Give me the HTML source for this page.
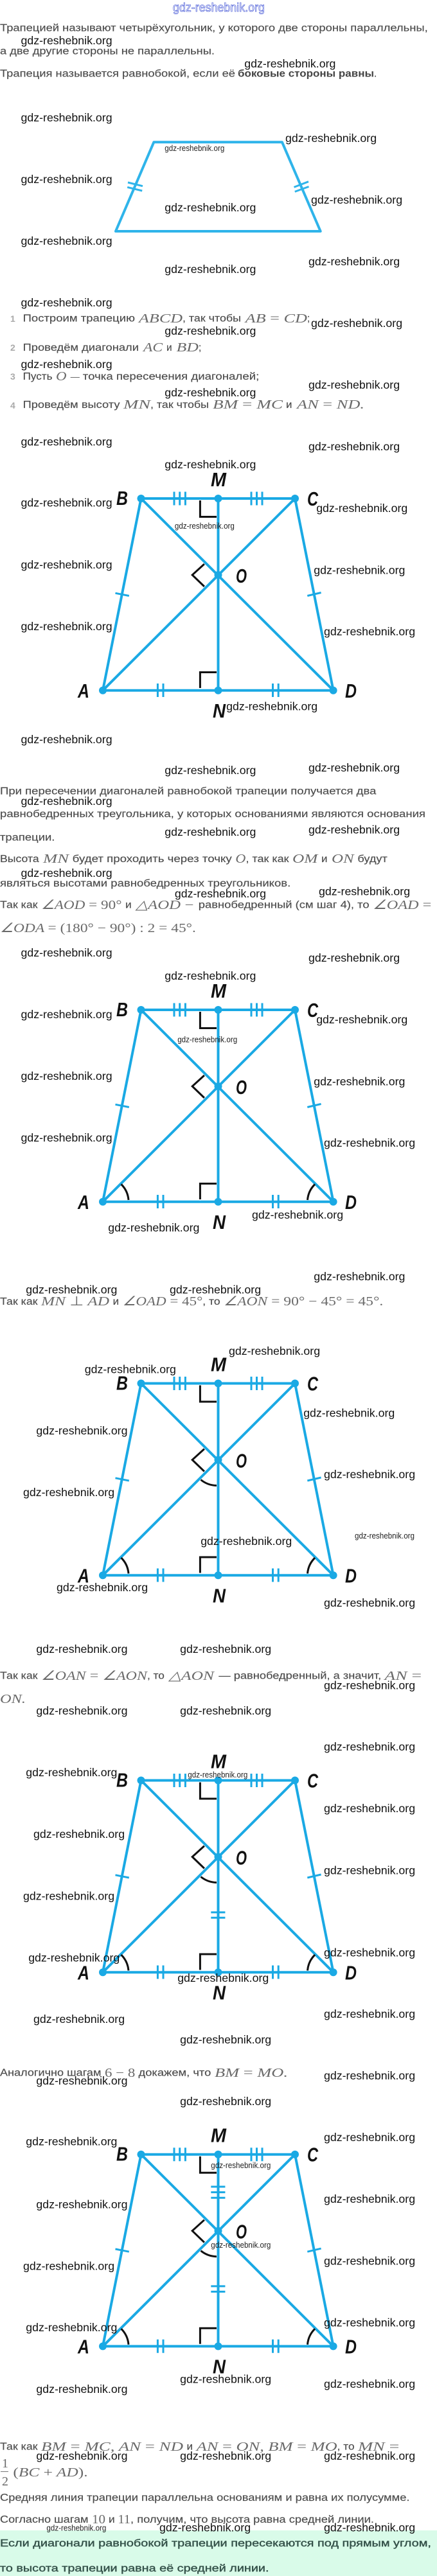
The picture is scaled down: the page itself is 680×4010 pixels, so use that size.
<!DOCTYPE html>
<html lang="ru"><head><meta charset="utf-8"><title>Трапеция</title>
<style>
html,body{margin:0;padding:0;background:#fff}
svg{display:block}
.b{font:15.5px "Liberation Sans","Noto Sans CJK SC",sans-serif;fill:#4c4c4c;stroke:#4c4c4c;stroke-width:.15}
.bb{font:bold 15.5px "Liberation Sans",sans-serif;fill:#444}
.g{font:15.5px "Liberation Sans",sans-serif;fill:#35524a;stroke:#35524a;stroke-width:.4}
.n{font:bold 14px "Liberation Sans",sans-serif;fill:#aaa}
.m{font:italic 20px "Liberation Serif",serif;fill:#6a6a6a}
.m tspan{font-style:normal}
.w{font:17.75px "Liberation Sans",sans-serif;fill:#111}
.s{font:13px "Liberation Sans",sans-serif;fill:#222}
.l{font:italic bold 31px "Liberation Sans",sans-serif;fill:#111}
.t{fill:#fff;stroke:#2a3fd0;stroke-width:.6;font:19px "Liberation Sans",sans-serif}
</style></head><body>
<svg xmlns="http://www.w3.org/2000/svg" width="680" height="4010" viewBox="0 0 680 4010">
<rect width="680" height="4010" fill="#fff"/>
<rect x="0" y="3939" width="680" height="71" fill="#d9fbe9"/>
<defs>
<g id="d">
<g stroke="#1aa9e4" stroke-width="4" fill="none">
<path d="M219.5 0H459L518.6 298.7H160Z"/>
<path d="M219.5 0L518.6 298.7M459 0L160 298.7M339.5 0V298.7" />
<g stroke-width="3">
<path d="M271 -10.5v21M279.7 -10.5v21M288.4 -10.5v21M391 -10.5v21M399.5 -10.5v21M408 -10.5v21"/>
<path d="M245.4 288v21M254 288v21M424.5 288v21M433.2 288v21"/>
<path d="M179.5 147.3L200.8 151.5M478.3 151.5L499.6 146.5"/>
</g>
</g>
<g fill="#1aa9e4"><circle cx="219.5" cy="0" r="6"/><circle cx="339.5" cy="0" r="6"/><circle cx="459" cy="0" r="6"/><circle cx="339.5" cy="119" r="6"/><circle cx="160" cy="298.7" r="6"/><circle cx="339.5" cy="298.7" r="6"/><circle cx="518.6" cy="298.7" r="6"/></g>
<path d="M311.4 3V28.5H337M317.9 102L299.2 119L317.9 137M311.4 295V270.5H337" stroke="#111" stroke-width="3" fill="none"/>
</g>
<path id="a" d="M188.6 271.5A39 39 0 0 1 200 296M490 271.5A39 39 0 0 0 478.5 296" stroke="#111" stroke-width="3" fill="none"/>
<path id="o" d="M312.5 150A40 40 0 0 0 337 159" stroke="#111" stroke-width="3" fill="none"/>
</defs>

<!-- first trapezoid -->
<path d="M239.4 221.2H438.9L498.7 360H180Z" fill="none" stroke="#2fb4ea" stroke-width="4" stroke-linejoin="round"/>
<path d="M199 284L222 289.7M198.2 291.4L221.2 297M457.5 291.4L480 282.7M458.8 298.4L480.5 290.5" stroke="#2fb4ea" stroke-width="3" fill="none"/>

<!-- diagrams -->
<g transform="translate(0,776)"><use href="#d"/>
<text class="l" x="328" y="-19" textLength="24" lengthAdjust="spacingAndGlyphs">M</text><text class="l" x="181" y="10" textLength="18" lengthAdjust="spacingAndGlyphs">B</text><text class="l" x="478" y="11" textLength="17" lengthAdjust="spacingAndGlyphs">C</text><text class="l" x="367" y="131" textLength="17" lengthAdjust="spacingAndGlyphs">O</text><text class="l" x="121" y="310" textLength="18" lengthAdjust="spacingAndGlyphs">A</text><text class="l" x="537" y="310" textLength="18" lengthAdjust="spacingAndGlyphs">D</text><text class="l" x="331" y="341" textLength="20" lengthAdjust="spacingAndGlyphs">N</text></g>
<g transform="translate(0,1572)"><use href="#d"/><use href="#a"/>
<text class="l" x="328" y="-19" textLength="24" lengthAdjust="spacingAndGlyphs">M</text><text class="l" x="181" y="10" textLength="18" lengthAdjust="spacingAndGlyphs">B</text><text class="l" x="478" y="11" textLength="17" lengthAdjust="spacingAndGlyphs">C</text><text class="l" x="367" y="131" textLength="17" lengthAdjust="spacingAndGlyphs">O</text><text class="l" x="121" y="310" textLength="18" lengthAdjust="spacingAndGlyphs">A</text><text class="l" x="537" y="310" textLength="18" lengthAdjust="spacingAndGlyphs">D</text><text class="l" x="331" y="341" textLength="20" lengthAdjust="spacingAndGlyphs">N</text></g>
<g transform="translate(0,2153.5)"><use href="#d"/><use href="#a"/><use href="#o"/>
<text class="l" x="328" y="-19" textLength="24" lengthAdjust="spacingAndGlyphs">M</text><text class="l" x="181" y="10" textLength="18" lengthAdjust="spacingAndGlyphs">B</text><text class="l" x="478" y="11" textLength="17" lengthAdjust="spacingAndGlyphs">C</text><text class="l" x="367" y="131" textLength="17" lengthAdjust="spacingAndGlyphs">O</text><text class="l" x="121" y="310" textLength="18" lengthAdjust="spacingAndGlyphs">A</text><text class="l" x="537" y="310" textLength="18" lengthAdjust="spacingAndGlyphs">D</text><text class="l" x="331" y="341" textLength="20" lengthAdjust="spacingAndGlyphs">N</text></g>
<g transform="translate(0,2771.5)"><use href="#d"/><use href="#a"/><use href="#o"/>
<path d="M328.3 205.4H350.4M328.3 213.7H350.4" stroke="#1aa9e4" stroke-width="3"/>
<text class="l" x="328" y="-19" textLength="24" lengthAdjust="spacingAndGlyphs">M</text><text class="l" x="181" y="10" textLength="18" lengthAdjust="spacingAndGlyphs">B</text><text class="l" x="478" y="11" textLength="17" lengthAdjust="spacingAndGlyphs">C</text><text class="l" x="367" y="131" textLength="17" lengthAdjust="spacingAndGlyphs">O</text><text class="l" x="121" y="310" textLength="18" lengthAdjust="spacingAndGlyphs">A</text><text class="l" x="537" y="310" textLength="18" lengthAdjust="spacingAndGlyphs">D</text><text class="l" x="331" y="341" textLength="20" lengthAdjust="spacingAndGlyphs">N</text></g>
<g transform="translate(0,3353.7)"><use href="#d"/><use href="#a"/><use href="#o"/>
<path d="M328.3 205.2H350.4M328.3 213.7H350.4M328.3 50.3H350.4M328.3 58.9H350.4M328.3 67.5H350.4" stroke="#1aa9e4" stroke-width="3"/>
<text class="l" x="328" y="-19" textLength="24" lengthAdjust="spacingAndGlyphs">M</text><text class="l" x="181" y="10" textLength="18" lengthAdjust="spacingAndGlyphs">B</text><text class="l" x="478" y="11" textLength="17" lengthAdjust="spacingAndGlyphs">C</text><text class="l" x="367" y="131" textLength="17" lengthAdjust="spacingAndGlyphs">O</text><text class="l" x="121" y="310" textLength="18" lengthAdjust="spacingAndGlyphs">A</text><text class="l" x="537" y="310" textLength="18" lengthAdjust="spacingAndGlyphs">D</text><text class="l" x="331" y="341" textLength="20" lengthAdjust="spacingAndGlyphs">N</text></g>

<!-- body text -->
<text class="b" x="0" y="48.5" textLength="665.7" lengthAdjust="spacingAndGlyphs">Трапецией называют четырёхугольник, у которого две стороны параллельны,</text>
<text class="b" x="0" y="84.5" textLength="334" lengthAdjust="spacingAndGlyphs">а две другие стороны не параллельны.</text>
<text class="b" x="0" y="119.5" textLength="366" lengthAdjust="spacingAndGlyphs">Трапеция называется равнобокой, если её</text>
<text class="bb" x="370" y="119.5" textLength="212" lengthAdjust="spacingAndGlyphs">боковые стороны равны</text>
<text class="b" x="582" y="119.5">.</text>

<text class="n" x="16" y="501">1</text>
<text class="b" x="35.6" y="500.7" textLength="174.4" lengthAdjust="spacingAndGlyphs">Построим трапецию</text>
<text class="m" x="216" y="502" textLength="68" lengthAdjust="spacingAndGlyphs">ABCD</text>
<text class="b" x="284" y="500.7" textLength="91" lengthAdjust="spacingAndGlyphs">, так чтобы</text>
<text class="m" x="381.6" y="502" textLength="96.4" lengthAdjust="spacingAndGlyphs">AB <tspan>=</tspan> CD</text>
<text class="b" x="478" y="500.7">;</text>
<text class="n" x="16" y="546">2</text>
<text class="b" x="35.6" y="545.8" textLength="180.4" lengthAdjust="spacingAndGlyphs">Проведём диагонали</text>
<text class="m" x="223" y="547" textLength="30" lengthAdjust="spacingAndGlyphs">AC</text>
<text class="b" x="259" y="545.8" textLength="8.6" lengthAdjust="spacingAndGlyphs">и</text>
<text class="m" x="274.5" y="547" textLength="34.5" lengthAdjust="spacingAndGlyphs">BD</text>
<text class="b" x="309" y="545.8">;</text>
<text class="n" x="16" y="591">3</text>
<text class="b" x="35.6" y="591" textLength="45.9" lengthAdjust="spacingAndGlyphs">Пусть</text>
<text class="m" x="87" y="592" textLength="16.6" lengthAdjust="spacingAndGlyphs">O</text>
<text class="m" x="109.7" y="592" textLength="14" lengthAdjust="spacingAndGlyphs"><tspan>—</tspan></text>
<text class="b" x="128.8" y="591" textLength="274.5" lengthAdjust="spacingAndGlyphs">точка пересечения диагоналей;</text>
<text class="n" x="16" y="636">4</text>
<text class="b" x="35.6" y="635" textLength="150.9" lengthAdjust="spacingAndGlyphs">Проведём высоту</text>
<text class="m" x="192" y="636" textLength="42" lengthAdjust="spacingAndGlyphs">MN</text>
<text class="b" x="234" y="635" textLength="91" lengthAdjust="spacingAndGlyphs">, так чтобы</text>
<text class="m" x="331" y="636" textLength="109" lengthAdjust="spacingAndGlyphs">BM <tspan>=</tspan> MC</text>
<text class="b" x="445" y="635" textLength="9.5" lengthAdjust="spacingAndGlyphs">и</text>
<text class="m" x="462" y="636" textLength="105" lengthAdjust="spacingAndGlyphs">AN <tspan>=</tspan> ND.</text>

<text class="b" x="0" y="1236.3" textLength="585.4" lengthAdjust="spacingAndGlyphs">При пересечении диагоналей равнобокой трапеции получается два</text>
<text class="b" x="0" y="1272.1" textLength="662" lengthAdjust="spacingAndGlyphs">равнобедренных треугольника, у которых основаниями являются основания</text>
<text class="b" x="0" y="1308.3" textLength="85.4" lengthAdjust="spacingAndGlyphs">трапеции.</text>
<text class="b" x="0" y="1342" textLength="60.7" lengthAdjust="spacingAndGlyphs">Высота</text>
<text class="m" x="67" y="1343" textLength="40" lengthAdjust="spacingAndGlyphs">MN</text>
<text class="b" x="112.7" y="1342" textLength="248" lengthAdjust="spacingAndGlyphs">будет проходить через точку</text>
<text class="m" x="366.4" y="1343" textLength="16" lengthAdjust="spacingAndGlyphs">O</text>
<text class="b" x="382.5" y="1342" textLength="67" lengthAdjust="spacingAndGlyphs">, так как</text>
<text class="m" x="455" y="1343" textLength="39.4" lengthAdjust="spacingAndGlyphs">OM</text>
<text class="b" x="500" y="1342" textLength="9.5" lengthAdjust="spacingAndGlyphs">и</text>
<text class="m" x="516" y="1343" textLength="34.7" lengthAdjust="spacingAndGlyphs">ON</text>
<text class="b" x="556.4" y="1342" textLength="46.4" lengthAdjust="spacingAndGlyphs">будут</text>
<text class="b" x="0" y="1380" textLength="452.3" lengthAdjust="spacingAndGlyphs">являться высотами равнобедренных треугольников.</text>
<text class="b" x="0" y="1413.6" textLength="58.5" lengthAdjust="spacingAndGlyphs">Так как</text>
<text class="m" x="64" y="1415" textLength="125.5" lengthAdjust="spacingAndGlyphs">∠AOD <tspan>= 90°</tspan></text>
<text class="b" x="195" y="1413.6" textLength="9.7" lengthAdjust="spacingAndGlyphs">и</text>
<text class="m" x="211" y="1415" textLength="70" lengthAdjust="spacingAndGlyphs">△AOD</text>
<text class="m" x="287.5" y="1415" textLength="14" lengthAdjust="spacingAndGlyphs"><tspan>−</tspan></text>
<text class="b" x="308.8" y="1413.6" textLength="265.8" lengthAdjust="spacingAndGlyphs">равнобедренный (см шаг 4), то</text>
<text class="m" x="580" y="1415" textLength="91.3" lengthAdjust="spacingAndGlyphs">∠OAD <tspan>=</tspan></text>
<text class="m" x="0" y="1451" textLength="304.9" lengthAdjust="spacingAndGlyphs">∠ODA <tspan>= (180° − 90°) : 2 = 45°.</tspan></text>

<text class="b" x="0" y="2031" textLength="58.5" lengthAdjust="spacingAndGlyphs">Так как</text>
<text class="m" x="64" y="2032" textLength="106" lengthAdjust="spacingAndGlyphs">MN <tspan>⊥</tspan> AD</text>
<text class="b" x="175.6" y="2031" textLength="9.5" lengthAdjust="spacingAndGlyphs">и</text>
<text class="m" x="190.8" y="2032" textLength="124.5" lengthAdjust="spacingAndGlyphs">∠OAD <tspan>= 45°</tspan></text>
<text class="b" x="315.3" y="2031" textLength="27.3" lengthAdjust="spacingAndGlyphs">, то</text>
<text class="m" x="348" y="2032" textLength="248.3" lengthAdjust="spacingAndGlyphs">∠AON <tspan>= 90° − 45° = 45°.</tspan></text>

<text class="b" x="0" y="2613.4" textLength="58.5" lengthAdjust="spacingAndGlyphs">Так как</text>
<text class="m" x="64" y="2615" textLength="165" lengthAdjust="spacingAndGlyphs">∠OAN <tspan>=</tspan> ∠AON</text>
<text class="b" x="229" y="2613.4" textLength="26.9" lengthAdjust="spacingAndGlyphs">, то</text>
<text class="m" x="262.4" y="2615" textLength="70.6" lengthAdjust="spacingAndGlyphs">△AON</text>
<text class="b" x="340.4" y="2613.4" textLength="252.8" lengthAdjust="spacingAndGlyphs">— равнобедренный, а значит,</text>
<text class="m" x="598.4" y="2615" textLength="57.6" lengthAdjust="spacingAndGlyphs">AN <tspan>=</tspan></text>
<text class="m" x="0" y="2651" textLength="40" lengthAdjust="spacingAndGlyphs">ON.</text>

<text class="b" x="0" y="3231.7" textLength="157.4" lengthAdjust="spacingAndGlyphs">Аналогично шагам</text>
<text class="m" x="163" y="3233" textLength="47.3" lengthAdjust="spacingAndGlyphs"><tspan>6 − 8</tspan></text>
<text class="b" x="215.5" y="3231.7" textLength="112.8" lengthAdjust="spacingAndGlyphs">докажем, что</text>
<text class="m" x="334" y="3233" textLength="114" lengthAdjust="spacingAndGlyphs">BM <tspan>=</tspan> MO.</text>

<text class="b" x="0" y="3813.4" textLength="58.5" lengthAdjust="spacingAndGlyphs">Так как</text>
<text class="m" x="64" y="3815" textLength="221" lengthAdjust="spacingAndGlyphs">BM <tspan>=</tspan> MC, AN <tspan>=</tspan> ND</text>
<text class="b" x="290.5" y="3813.4" textLength="9.5" lengthAdjust="spacingAndGlyphs">и</text>
<text class="m" x="305.7" y="3815" textLength="219" lengthAdjust="spacingAndGlyphs">AN <tspan>=</tspan> ON, BM <tspan>=</tspan> MO</text>
<text class="b" x="524.7" y="3813.4" textLength="26.9" lengthAdjust="spacingAndGlyphs">, то</text>
<text class="m" x="557" y="3815" textLength="64.4" lengthAdjust="spacingAndGlyphs">MN <tspan>=</tspan></text>
<text class="m" x="3" y="3841"><tspan>1</tspan></text>
<rect x="1" y="3847" width="12" height="1" fill="#777"/>
<text class="m" x="3" y="3869"><tspan>2</tspan></text>
<text class="m" x="20.4" y="3855" textLength="116.2" lengthAdjust="spacingAndGlyphs"><tspan>(</tspan>BC <tspan>+</tspan> AD<tspan>).</tspan></text>
<text class="b" x="0" y="3893" textLength="637.5" lengthAdjust="spacingAndGlyphs">Средняя линия трапеции параллельна основаниям и равна их полусумме.</text>
<text class="b" x="0" y="3927" textLength="137.5" lengthAdjust="spacingAndGlyphs">Согласно шагам</text>
<text class="m" x="143" y="3928" textLength="21" lengthAdjust="spacingAndGlyphs"><tspan>10</tspan></text>
<text class="b" x="169" y="3927" textLength="9.7" lengthAdjust="spacingAndGlyphs">и</text>
<text class="m" x="183.4" y="3928" textLength="19.6" lengthAdjust="spacingAndGlyphs"><tspan>11</tspan></text>
<text class="b" x="203" y="3927" textLength="379" lengthAdjust="spacingAndGlyphs">, получим, что высота равна средней линии.</text>
<text class="g" x="0" y="3964.2" textLength="670.9" lengthAdjust="spacingAndGlyphs">Если диагонали равнобокой трапеции пересекаются под прямым углом,</text>
<text class="g" x="0" y="4003" textLength="418.5" lengthAdjust="spacingAndGlyphs">то высота трапеции равна её средней линии.</text>

<!-- watermarks -->
<text class="t" x="269" y="18" textLength="143" lengthAdjust="spacingAndGlyphs">gdz-reshebnik.org</text>
<text class="w" x="32.5" y="69">gdz-reshebnik.org</text>
<text class="w" x="380.3" y="105">gdz-reshebnik.org</text>
<text class="w" x="32.5" y="189">gdz-reshebnik.org</text>
<text class="w" x="444" y="221">gdz-reshebnik.org</text>
<text class="s" x="256.3" y="235" textLength="93" lengthAdjust="spacingAndGlyphs">gdz-reshebnik.org</text>
<text class="w" x="32.5" y="285">gdz-reshebnik.org</text>
<text class="w" x="484" y="317">gdz-reshebnik.org</text>
<text class="w" x="256.3" y="329">gdz-reshebnik.org</text>
<text class="w" x="32.5" y="381">gdz-reshebnik.org</text>
<text class="w" x="480" y="413">gdz-reshebnik.org</text>
<text class="w" x="256.3" y="425">gdz-reshebnik.org</text>
<text class="w" x="32.5" y="477">gdz-reshebnik.org</text>
<text class="w" x="484" y="509">gdz-reshebnik.org</text>
<text class="w" x="256.3" y="521">gdz-reshebnik.org</text>
<text class="w" x="32.5" y="573">gdz-reshebnik.org</text>
<text class="w" x="480" y="605">gdz-reshebnik.org</text>
<text class="w" x="256.3" y="617">gdz-reshebnik.org</text>

<text class="w" x="32.5" y="693.4">gdz-reshebnik.org</text>
<text class="w" x="480" y="701">gdz-reshebnik.org</text>
<text class="w" x="256.3" y="729.2">gdz-reshebnik.org</text>
<text class="w" x="32.5" y="788.5">gdz-reshebnik.org</text>
<text class="w" x="492.2" y="797">gdz-reshebnik.org</text>
<text class="s" x="271.9" y="823" textLength="93" lengthAdjust="spacingAndGlyphs">gdz-reshebnik.org</text>
<text class="w" x="32.5" y="885">gdz-reshebnik.org</text>
<text class="w" x="488.3" y="893.3">gdz-reshebnik.org</text>
<text class="w" x="32.5" y="980.9">gdz-reshebnik.org</text>
<text class="w" x="504" y="988.9">gdz-reshebnik.org</text>
<text class="w" x="352.1" y="1105.5">gdz-reshebnik.org</text>
<text class="w" x="32.5" y="1157.2">gdz-reshebnik.org</text>
<text class="w" x="256.3" y="1205.2">gdz-reshebnik.org</text>
<text class="w" x="480" y="1201">gdz-reshebnik.org</text>
<text class="w" x="32.5" y="1253.2">gdz-reshebnik.org</text>
<text class="w" x="256.3" y="1301.2">gdz-reshebnik.org</text>
<text class="w" x="480" y="1297.4">gdz-reshebnik.org</text>

<text class="w" x="32.5" y="1365.2">gdz-reshebnik.org</text>
<text class="w" x="271.9" y="1397.2">gdz-reshebnik.org</text>
<text class="w" x="496" y="1393.4">gdz-reshebnik.org</text>
<text class="w" x="32.5" y="1489">gdz-reshebnik.org</text>
<text class="w" x="480" y="1497">gdz-reshebnik.org</text>
<text class="w" x="256.3" y="1525">gdz-reshebnik.org</text>
<text class="w" x="32.5" y="1585">gdz-reshebnik.org</text>
<text class="w" x="492.2" y="1593">gdz-reshebnik.org</text>
<text class="s" x="276.2" y="1622.7" textLength="93" lengthAdjust="spacingAndGlyphs">gdz-reshebnik.org</text>
<text class="w" x="32.5" y="1680.9">gdz-reshebnik.org</text>
<text class="w" x="488.3" y="1689.3">gdz-reshebnik.org</text>
<text class="w" x="32.5" y="1777.2">gdz-reshebnik.org</text>
<text class="w" x="504" y="1784.8">gdz-reshebnik.org</text>
<text class="w" x="392" y="1897.2">gdz-reshebnik.org</text>
<text class="w" x="168.3" y="1917">gdz-reshebnik.org</text>
<text class="w" x="488.3" y="1993.2">gdz-reshebnik.org</text>

<text class="w" x="40.3" y="2013.7">gdz-reshebnik.org</text>
<text class="w" x="264" y="2013.7">gdz-reshebnik.org</text>
<text class="w" x="356" y="2109">gdz-reshebnik.org</text>
<text class="w" x="131.8" y="2137.3">gdz-reshebnik.org</text>
<text class="w" x="472.2" y="2205.3">gdz-reshebnik.org</text>
<text class="w" x="56.4" y="2233">gdz-reshebnik.org</text>
<text class="w" x="504" y="2301.2">gdz-reshebnik.org</text>
<text class="w" x="36" y="2329">gdz-reshebnik.org</text>
<text class="s" x="552" y="2395" textLength="93" lengthAdjust="spacingAndGlyphs">gdz-reshebnik.org</text>
<text class="w" x="312.2" y="2404.8">gdz-reshebnik.org</text>
<text class="w" x="88" y="2476.8">gdz-reshebnik.org</text>
<text class="w" x="504" y="2501">gdz-reshebnik.org</text>
<text class="w" x="56.4" y="2573">gdz-reshebnik.org</text>
<text class="w" x="280.1" y="2573">gdz-reshebnik.org</text>
<text class="w" x="504" y="2629.5">gdz-reshebnik.org</text>
<text class="w" x="56.4" y="2669">gdz-reshebnik.org</text>
<text class="w" x="280.1" y="2669">gdz-reshebnik.org</text>

<text class="w" x="504" y="2725">gdz-reshebnik.org</text>
<text class="w" x="40.3" y="2765">gdz-reshebnik.org</text>
<text class="s" x="292.3" y="2767" textLength="93" lengthAdjust="spacingAndGlyphs">gdz-reshebnik.org</text>
<text class="w" x="504" y="2821">gdz-reshebnik.org</text>
<text class="w" x="52" y="2861">gdz-reshebnik.org</text>
<text class="w" x="504" y="2917.3">gdz-reshebnik.org</text>
<text class="w" x="36" y="2957.3">gdz-reshebnik.org</text>
<text class="w" x="504" y="3045.3">gdz-reshebnik.org</text>
<text class="w" x="44.2" y="3053.3">gdz-reshebnik.org</text>
<text class="w" x="276.2" y="3084.8">gdz-reshebnik.org</text>
<text class="w" x="504" y="3141.2">gdz-reshebnik.org</text>
<text class="w" x="52" y="3149.2">gdz-reshebnik.org</text>
<text class="w" x="280.1" y="3181.2">gdz-reshebnik.org</text>
<text class="w" x="504" y="3237.2">gdz-reshebnik.org</text>
<text class="w" x="56.4" y="3245.2">gdz-reshebnik.org</text>
<text class="w" x="280.1" y="3277.2">gdz-reshebnik.org</text>
<text class="w" x="504" y="3333.2">gdz-reshebnik.org</text>
<text class="w" x="40.3" y="3339.5">gdz-reshebnik.org</text>

<text class="s" x="328.3" y="3375" textLength="93" lengthAdjust="spacingAndGlyphs">gdz-reshebnik.org</text>
<text class="w" x="504" y="3429.2">gdz-reshebnik.org</text>
<text class="w" x="56.4" y="3437.3">gdz-reshebnik.org</text>
<text class="s" x="328.3" y="3499" textLength="93" lengthAdjust="spacingAndGlyphs">gdz-reshebnik.org</text>
<text class="w" x="504" y="3525.3">gdz-reshebnik.org</text>
<text class="w" x="36" y="3533.5">gdz-reshebnik.org</text>
<text class="w" x="504" y="3621.5">gdz-reshebnik.org</text>
<text class="w" x="40.3" y="3629.2">gdz-reshebnik.org</text>
<text class="w" x="280.1" y="3709.5">gdz-reshebnik.org</text>
<text class="w" x="504" y="3717.2">gdz-reshebnik.org</text>
<text class="w" x="56.4" y="3725">gdz-reshebnik.org</text>
<text class="w" x="56.4" y="3829.2">gdz-reshebnik.org</text>
<text class="w" x="280.1" y="3829.2">gdz-reshebnik.org</text>
<text class="w" x="504" y="3829.2">gdz-reshebnik.org</text>
<text class="s" x="72.4" y="3939.4" textLength="93" lengthAdjust="spacingAndGlyphs">gdz-reshebnik.org</text>
<text class="w" x="248" y="3940.7">gdz-reshebnik.org</text>
<text class="w" x="504" y="3940.7">gdz-reshebnik.org</text>
</svg>
</body></html>
